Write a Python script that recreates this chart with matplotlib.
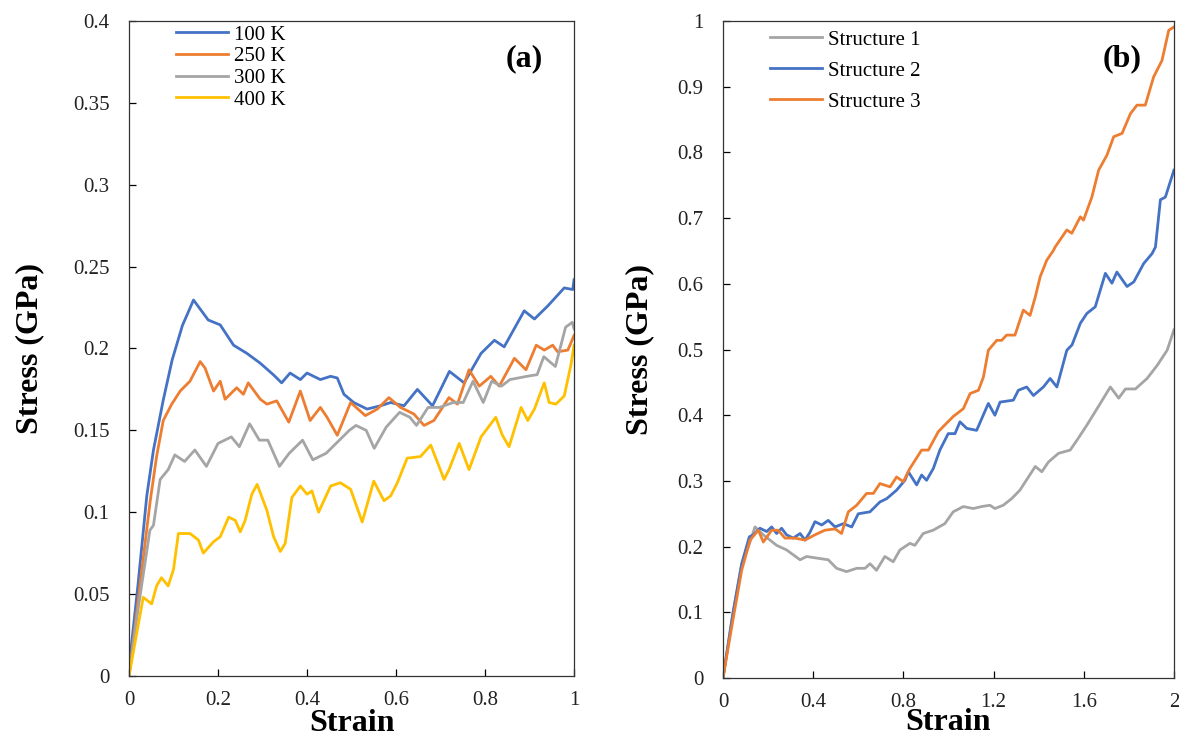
import numpy as np
import matplotlib
matplotlib.use("Agg")
import matplotlib.pyplot as plt

plt.rcParams['font.family'] = ['Liberation Serif', 'DejaVu Serif']

# ---- panel (a): temperature ----
strain_100 = [0, 0.02, 0.04, 0.055, 0.077, 0.097, 0.12, 0.145, 0.178, 0.205, 0.235, 0.265,
              0.295, 0.325, 0.343, 0.362, 0.385, 0.40, 0.43, 0.453, 0.468, 0.483, 0.505,
              0.535, 0.565, 0.588, 0.618, 0.648, 0.682, 0.72, 0.753, 0.791, 0.821, 0.843,
              0.888, 0.911, 0.941, 0.978, 0.997, 1.0]
stress_100 = [0.005, 0.055, 0.11, 0.138, 0.1685, 0.193, 0.214, 0.2296, 0.2174, 0.2144, 0.202,
              0.197, 0.191, 0.1838, 0.179, 0.185, 0.181, 0.185, 0.181, 0.183, 0.182, 0.172,
              0.167, 0.163, 0.165, 0.167, 0.165, 0.175, 0.165, 0.186, 0.179, 0.197, 0.205,
              0.201, 0.223, 0.218, 0.226, 0.237, 0.236, 0.242]

strain_250 = [0, 0.02, 0.048, 0.062, 0.077, 0.096, 0.115, 0.137, 0.16, 0.171, 0.19, 0.205,
              0.216, 0.242, 0.257, 0.268, 0.295, 0.31, 0.332, 0.359, 0.385, 0.407, 0.43,
              0.445, 0.468, 0.498, 0.531, 0.558, 0.584, 0.61, 0.64, 0.663, 0.685, 0.719,
              0.738, 0.764, 0.787, 0.813, 0.832, 0.866, 0.892, 0.915, 0.933, 0.952, 0.963,
              0.986, 1.0]
stress_250 = [0.0, 0.045, 0.1075, 0.134, 0.156, 0.166, 0.174, 0.18, 0.192, 0.188, 0.174, 0.18,
              0.169, 0.176, 0.172, 0.179, 0.169, 0.166, 0.168, 0.155, 0.174, 0.156, 0.164,
              0.158, 0.147, 0.167, 0.159, 0.163, 0.17, 0.164, 0.16, 0.153, 0.156, 0.17,
              0.166, 0.187, 0.177, 0.183, 0.177, 0.194, 0.187, 0.202, 0.199, 0.202, 0.198,
              0.199, 0.208]

strain_300 = [0, 0.02, 0.047, 0.055, 0.07, 0.088, 0.103, 0.125, 0.148, 0.174, 0.2, 0.23,
              0.248, 0.271, 0.293, 0.312, 0.338, 0.36, 0.39, 0.413, 0.443, 0.469, 0.495,
              0.51, 0.533, 0.551, 0.578, 0.608, 0.631, 0.646, 0.672, 0.698, 0.728, 0.751,
              0.773, 0.796, 0.815, 0.837, 0.856, 0.894, 0.917, 0.932, 0.958, 0.981, 0.996,
              1.0]
stress_300 = [0.0, 0.04, 0.089, 0.092, 0.12, 0.126, 0.135, 0.131, 0.138, 0.128, 0.142, 0.146,
              0.14, 0.154, 0.144, 0.144, 0.128, 0.136, 0.144, 0.132, 0.136, 0.143, 0.15,
              0.153, 0.15, 0.139, 0.152, 0.161, 0.158, 0.153, 0.164, 0.164, 0.167, 0.167,
              0.18, 0.167, 0.18, 0.177, 0.181, 0.183, 0.184, 0.195, 0.189, 0.213, 0.216,
              0.212]

strain_400 = [0, 0.032, 0.051, 0.062, 0.073, 0.088, 0.1, 0.111, 0.137, 0.156, 0.167, 0.19,
              0.205, 0.224, 0.239, 0.25, 0.261, 0.276, 0.288, 0.31, 0.325, 0.34, 0.351,
              0.366, 0.385, 0.4, 0.411, 0.426, 0.453, 0.475, 0.498, 0.524, 0.55, 0.573,
              0.588, 0.603, 0.625, 0.655, 0.678, 0.708, 0.719, 0.742, 0.764, 0.791, 0.824,
              0.839, 0.854, 0.881, 0.896, 0.911, 0.933, 0.944, 0.959, 0.978, 0.993, 1.0]
stress_400 = [0.0, 0.048, 0.044, 0.055, 0.06, 0.055, 0.065, 0.087, 0.087, 0.083, 0.075, 0.082,
              0.085, 0.097, 0.095, 0.088, 0.095, 0.111, 0.117, 0.101, 0.085, 0.076, 0.081,
              0.109, 0.116, 0.111, 0.113, 0.1, 0.116, 0.118, 0.114, 0.094, 0.119, 0.107,
              0.11, 0.118, 0.133, 0.134, 0.141, 0.12, 0.126, 0.142, 0.126, 0.146, 0.158,
              0.147, 0.14, 0.164, 0.156, 0.163, 0.179, 0.167, 0.166, 0.171, 0.19, 0.202]

labels_a = ['100 K', '250 K', '300 K', '400 K']

# ---- panel (b): structures ----
strain_s1 = [0, 0.044, 0.083, 0.12, 0.142, 0.179, 0.238, 0.282, 0.342, 0.371, 0.408, 0.467,
             0.504, 0.548, 0.593, 0.63, 0.652, 0.681, 0.718, 0.755, 0.785, 0.829, 0.851,
             0.888, 0.932, 0.984, 1.021, 1.066, 1.11, 1.147, 1.184, 1.206, 1.243, 1.28,
             1.317, 1.385, 1.414, 1.444, 1.488, 1.54, 1.57, 1.614, 1.659, 1.718, 1.755,
             1.785, 1.829, 1.881, 1.926, 1.97, 2.0]
stress_s1 = [0, 0.098, 0.172, 0.207, 0.23, 0.218, 0.202, 0.195, 0.18, 0.185, 0.183, 0.18,
             0.167, 0.162, 0.167, 0.167, 0.174, 0.164, 0.185, 0.177, 0.195, 0.205, 0.202,
             0.22, 0.225, 0.235, 0.253, 0.261, 0.258, 0.261, 0.263, 0.258, 0.263, 0.273,
             0.286, 0.322, 0.314, 0.329, 0.342, 0.347, 0.362, 0.385, 0.41, 0.443, 0.426,
             0.44, 0.44, 0.456, 0.476, 0.499, 0.53]

strain_s2 = [0, 0.044, 0.083, 0.117, 0.135, 0.164, 0.194, 0.216, 0.238, 0.26, 0.282, 0.312,
             0.342, 0.364, 0.386, 0.408, 0.438, 0.467, 0.497, 0.534, 0.571, 0.6, 0.652,
             0.696, 0.726, 0.77, 0.807, 0.822, 0.859, 0.881, 0.903, 0.933, 0.962, 0.999,
             1.029, 1.051, 1.081, 1.125, 1.177, 1.206, 1.229, 1.288, 1.31, 1.347, 1.377,
             1.421, 1.451, 1.481, 1.525, 1.548, 1.585, 1.614, 1.651, 1.696, 1.725, 1.747,
             1.792, 1.822, 1.866, 1.903, 1.918, 1.94, 1.962, 2.0]
stress_s2 = [0, 0.098, 0.174, 0.215, 0.218, 0.228, 0.223, 0.23, 0.22, 0.228, 0.218, 0.213,
             0.22, 0.21, 0.222, 0.238, 0.233, 0.24, 0.23, 0.235, 0.23, 0.25, 0.253,
             0.268, 0.273, 0.286, 0.301, 0.314, 0.294, 0.309, 0.301, 0.319, 0.347, 0.372,
             0.372, 0.39, 0.38, 0.377, 0.418, 0.4, 0.42, 0.423, 0.438, 0.443, 0.43,
             0.443, 0.456, 0.443, 0.499, 0.507, 0.54, 0.555, 0.565, 0.616, 0.601, 0.618,
             0.596, 0.603, 0.631, 0.646, 0.656, 0.728, 0.732, 0.773]

strain_s3 = [0, 0.044, 0.083, 0.12, 0.157, 0.179, 0.216, 0.245, 0.275, 0.319, 0.364, 0.408,
             0.452, 0.497, 0.526, 0.556, 0.593, 0.637, 0.667, 0.696, 0.741, 0.77, 0.8,
             0.829, 0.881, 0.911, 0.955, 0.992, 1.021, 1.066, 1.096, 1.133, 1.155, 1.177,
             1.214, 1.236, 1.258, 1.295, 1.332, 1.362, 1.385, 1.407, 1.436, 1.466, 1.473,
             1.525, 1.547, 1.585, 1.599, 1.636, 1.666, 1.703, 1.733, 1.77, 1.807, 1.836,
             1.873, 1.91, 1.947, 1.977, 2.0]
stress_s3 = [0, 0.088, 0.164, 0.21, 0.225, 0.207, 0.225, 0.225, 0.213, 0.213, 0.21, 0.218,
             0.225, 0.227, 0.22, 0.253, 0.263, 0.281, 0.281, 0.296, 0.291, 0.306, 0.299,
             0.319, 0.347, 0.347, 0.375, 0.388, 0.398, 0.41, 0.433, 0.438, 0.458, 0.499,
             0.514, 0.514, 0.522, 0.522, 0.56, 0.552, 0.58, 0.611, 0.636, 0.651, 0.656,
             0.682, 0.677, 0.702, 0.697, 0.732, 0.773, 0.796, 0.824, 0.829, 0.859, 0.872,
             0.872, 0.915, 0.94, 0.986, 0.991]

labels_b = ['Structure 1', 'Structure 2', 'Structure 3']

blue, orange, gray, yellow = '#4472C4', '#ED7D31', '#A5A5A5', '#FFC000'

fig = plt.figure(figsize=(11.79, 7.39), dpi=100)
ax1 = fig.add_axes([0.1094, 0.0853, 0.3775, 0.8863])
ax2 = fig.add_axes([0.6132, 0.0825, 0.3825, 0.8890])

lw = 2.0
ax1.plot(strain_100, stress_100, color=blue, lw=lw, label=labels_a[0])
ax1.plot(strain_250, stress_250, color=orange, lw=lw, label=labels_a[1])
ax1.plot(strain_300, stress_300, color=gray, lw=lw, label=labels_a[2])
ax1.plot(strain_400, stress_400, color=yellow, lw=lw, label=labels_a[3])

ax2.plot(strain_s1, stress_s1, color=gray, lw=lw, label=labels_b[0])
ax2.plot(strain_s2, stress_s2, color=blue, lw=lw, label=labels_b[1])
ax2.plot(strain_s3, stress_s3, color=orange, lw=lw, label=labels_b[2])


def fmt(v):
    return '%g' % round(v, 3)


def style(ax, xt, yt, ypad, xpad):
    ax.set_xlim(xt[0], xt[-1])
    ax.set_ylim(yt[0], yt[-1])
    ax.set_xticks(xt)
    ax.set_yticks(yt)
    ax.set_xticklabels([fmt(v) for v in xt])
    ax.set_yticklabels([fmt(v) for v in yt])
    ax.tick_params(direction='in', length=5, width=0.9, labelsize=15,
                   colors='black', labelcolor='#222222')
    ax.tick_params(axis='y', pad=14)
    ax.tick_params(axis='x', pad=11)
    for sp in ax.spines.values():
        sp.set_linewidth(0.9)
        sp.set_color('#333333')
    ax.set_xlabel('Strain', fontsize=23, fontweight='bold', labelpad=xpad)
    ax.set_ylabel('Stress (GPa)', fontsize=23, fontweight='bold', labelpad=ypad)


style(ax1, np.arange(0, 1.01, 0.2), np.arange(0, 0.401, 0.05), 21, -1)
style(ax2, np.arange(0, 2.01, 0.4), np.arange(0, 1.01, 0.1), 17, -3)

ax1.text(0.888, 0.965, '(a)', transform=ax1.transAxes, fontsize=23, fontweight='bold',
         ha='center', va='top')
ax2.text(0.885, 0.965, '(b)', transform=ax2.transAxes, fontsize=23, fontweight='bold',
         ha='center', va='top')

ax1.legend(loc='upper left', bbox_to_anchor=(176 / 1179, 1 - 25 / 739),
           bbox_transform=fig.transFigure, frameon=False, fontsize=15, borderpad=0,
           borderaxespad=0, labelspacing=0.1, handlelength=2.5, handletextpad=0.3)
ax2.legend(loc='upper left', bbox_to_anchor=(770 / 1179, 1 - 30 / 739),
           bbox_transform=fig.transFigure, frameon=False, fontsize=15, borderpad=0,
           borderaxespad=0, labelspacing=0.55, handlelength=2.5, handletextpad=0.3)

fig.savefig('out.png', dpi=100)
